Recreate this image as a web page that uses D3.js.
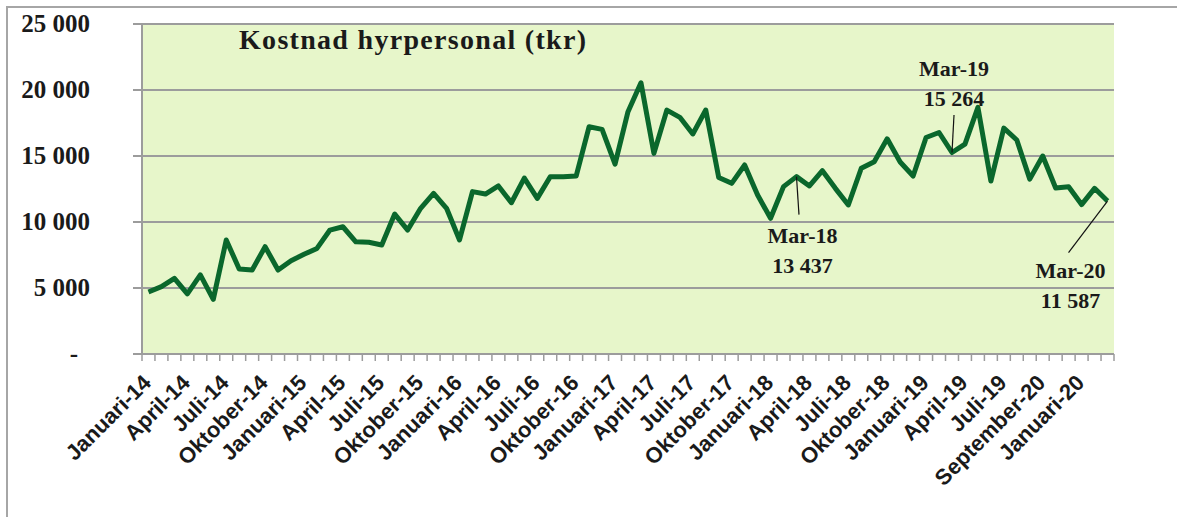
<!doctype html>
<html>
<head>
<meta charset="UTF-8">
<title>Kostnad hyrpersonal</title>
<script src="https://d3js.org/d3.v7.min.js"></script>
<style>
  body { margin: 0; background: #fff; }
</style>
</head>
<body>
<script>
// månadsvärden jan 2014 - mar 2020 (tkr)
var values = [
  4700, 5100, 5730, 4550, 5990, 4140, 8640, 6440, 6360, 8130, 6360, 7070,
  7550, 8000, 9390, 9640, 8500, 8470, 8260, 10600, 9390, 11040, 12170, 11040,
  8640, 12300, 12120, 12730, 11460, 13330, 11790, 13430, 13430, 13480, 17220, 17020,
  14390, 18360, 20550, 15200, 18480, 17930, 16670, 18480, 13370, 12930, 14320, 12050,
  10280, 12680, 13437, 12730, 13890, 12550, 11290, 14070, 14570, 16300, 14550, 13480,
  16400, 16780, 15264, 15900, 18680, 13100, 17110, 16210, 13250, 15000, 12580, 12670,
  11320, 12550, 11587
];
// etiketter var tredje månad (som i originalet)
var xLabels = [
  "Januari-14", "April-14", "Juli-14", "Oktober-14",
  "Januari-15", "April-15", "Juli-15", "Oktober-15",
  "Januari-16", "April-16", "Juli-16", "Oktober-16",
  "Januari-17", "April-17", "Juli-17", "Oktober-17",
  "Januari-18", "April-18", "Juli-18", "Oktober-18",
  "Januari-19", "April-19", "Juli-19", "September-20", "Januari-20"
];
var yTicks = [0, 5000, 10000, 15000, 20000, 25000];
var yTickLabels = ["-", "5 000", "10 000", "15 000", "20 000", "25 000"];
var noteIndex = [50, 62, 74];
var noteMonth = ["Mar-18", "Mar-19", "Mar-20"];
var noteValue = ["13 437", "15 264", "11 587"];

var w = 1177, h = 517;
var pLeft = 142, pRight = 1114, pTop = 24, pBottom = 354;
var lineColor = "#0a672c";
var gridColor = "#9c9c9c";

var svg = d3.select("body").append("svg")
  .attr("width", w).attr("height", h);

var x = d3.scaleBand().domain(d3.range(values.length)).range([pLeft, pRight]);
var y = d3.scaleLinear().domain([0, 25000]).range([pBottom, pTop]);
function cx(i) { return x(i) + x.bandwidth() / 2; }

// ram runt diagrammet
svg.append("path")
  .attr("d", "M7," + h + "V7H" + w)
  .attr("fill", "none").attr("stroke", "#a6a6a6").attr("stroke-width", 2);

// ritytan
svg.append("rect")
  .attr("x", pLeft).attr("y", pTop)
  .attr("width", pRight - pLeft).attr("height", pBottom - pTop)
  .attr("fill", "#e7f6ca");

// stödlinjer + y-etiketter
svg.selectAll("line.grid").data(yTicks).enter().append("line")
  .attr("class", "grid")
  .attr("x1", pLeft - 9).attr("x2", pRight)
  .attr("y1", function(d) { return y(d); })
  .attr("y2", function(d) { return y(d); })
  .attr("stroke", gridColor).attr("stroke-width", 2);

svg.selectAll("text.ylab").data(yTicks).enter().append("text")
  .attr("class", "ylab")
  .attr("x", function(d) { return d === 0 ? 78 : 90; })
  .attr("y", function(d) { return y(d) + 8; })
  .attr("text-anchor", "end")
  .attr("font-family", "Liberation Serif")
  .attr("font-weight", "bold")
  .attr("font-size", 25)
  .attr("fill", "#1a1a1a")
  .text(function(d, i) { return yTickLabels[i]; });

// y-axel
svg.append("line")
  .attr("x1", pLeft).attr("x2", pLeft).attr("y1", pTop).attr("y2", pBottom)
  .attr("stroke", gridColor).attr("stroke-width", 2);

// x-axel med streck mellan kategorierna
var bounds = d3.range(values.length).map(function(i) { return x(i); }).concat([pRight]);
svg.selectAll("line.xtick").data(bounds).enter().append("line")
  .attr("class", "xtick")
  .attr("x1", function(d) { return d; }).attr("x2", function(d) { return d; })
  .attr("y1", pBottom).attr("y2", pBottom + 7)
  .attr("stroke", gridColor).attr("stroke-width", 1.5);

svg.selectAll("text.xlab").data(xLabels).enter().append("text")
  .attr("class", "xlab")
  .attr("transform", function(d, i) {
    return "translate(" + (cx(i * 3) + 4) + "," + (pBottom + 30) + ") rotate(-45)";
  })
  .attr("text-anchor", "end")
  .attr("font-family", "Liberation Sans")
  .attr("font-weight", "bold")
  .attr("font-size", 22)
  .attr("fill", "#1a1a1a")
  .text(function(d) { return d; });

// titel
svg.append("text")
  .attr("x", 239).attr("y", 49)
  .attr("font-family", "Liberation Serif")
  .attr("font-weight", "bold")
  .attr("font-size", 28)
  .attr("letter-spacing", 1.3)
  .attr("fill", "#1a1a1a")
  .text("Kostnad hyrpersonal (tkr)");

// linjen
var line = d3.line()
  .x(function(d, i) { return cx(i); })
  .y(function(d) { return y(d); });

svg.append("path")
  .datum(values)
  .attr("d", line)
  .attr("fill", "none")
  .attr("stroke", lineColor)
  .attr("stroke-width", 5)
  .attr("stroke-linejoin", "round");

// dataetiketter med hänvisningslinjer
var noteOffset = [
  { lx: 2.5, ly: 38, tx: 6, ty: 66 },
  { lx: 2, ly: -37.6, tx: 2, ty: -76.5 },
  { lx: -39, ly: 51.5, tx: -37, ty: 77 }
];

noteIndex.forEach(function(idx, k) {
  var px = cx(idx), py = y(values[idx]), o = noteOffset[k];
  svg.append("line")
    .attr("x1", px).attr("y1", py)
    .attr("x2", px + o.lx).attr("y2", py + o.ly)
    .attr("stroke", "#111").attr("stroke-width", 1.2);
  var t = svg.append("text")
    .attr("text-anchor", "middle")
    .attr("font-family", "Liberation Serif")
    .attr("font-weight", "bold")
    .attr("font-size", 22)
    .attr("fill", "#1a1a1a");
  t.append("tspan").attr("x", px + o.tx).attr("y", py + o.ty).text(noteMonth[k]);
  t.append("tspan").attr("x", px + o.tx).attr("y", py + o.ty + 30).text(noteValue[k]);
});
</script>
</body>
</html>
